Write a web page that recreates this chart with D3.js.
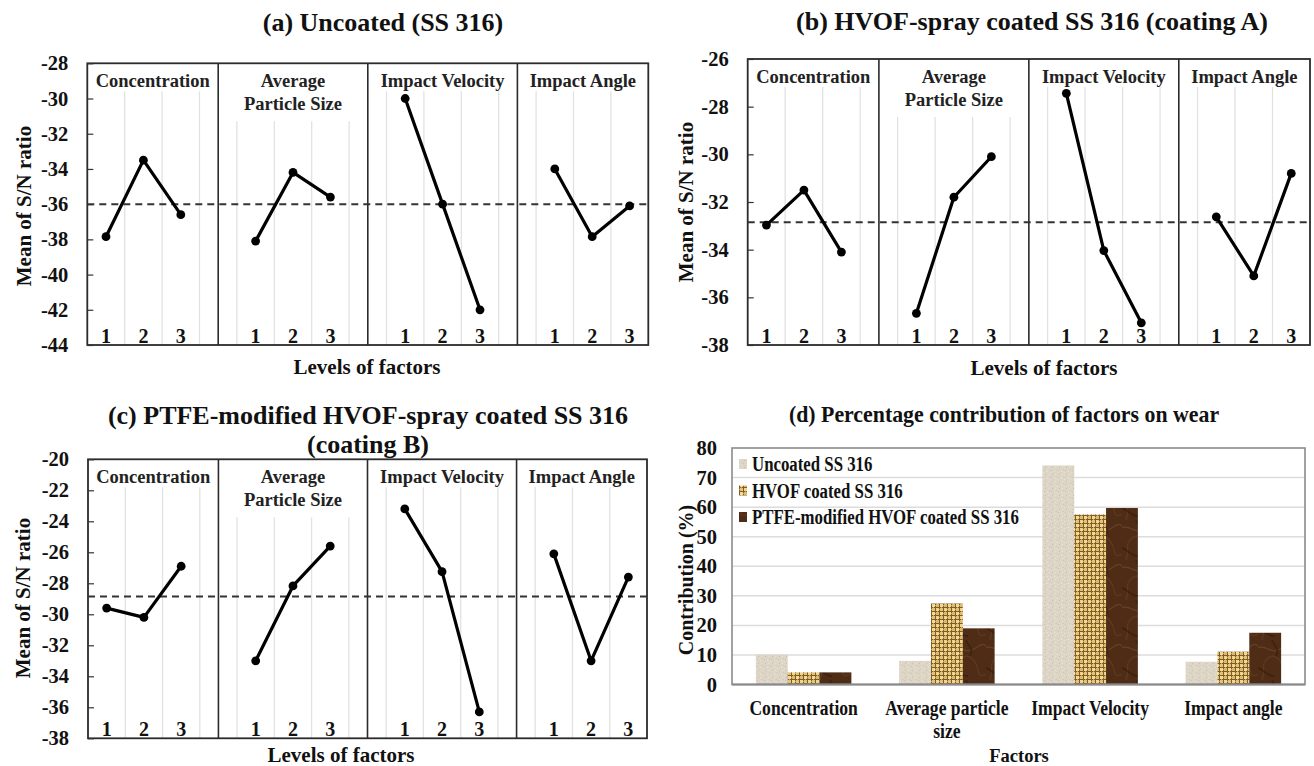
<!DOCTYPE html>
<html>
<head>
<meta charset="utf-8">
<script src="https://cdn.jsdelivr.net/npm/d3@7"></script>
<style>
  body { margin: 0; background: #fff; }
  svg { display: block; font-family: "Liberation Serif", "Times New Roman", serif; font-weight: bold; }
</style>
</head>
<body>
<svg id="chart" width="1314" height="766"></svg>
<script>
// ---- Main-effect plots: mean S/N ratio per factor level (factor order, levels 1-3) ----
const factorNames = ["Concentration", "Average Particle Size", "Impact Velocity", "Impact Angle"];
const levelLabels = ["1", "2", "3"];

const snUncoated = [-37.85, -33.5, -36.6,  -38.1, -34.2, -35.6,  -30.0, -36.0, -42.0,  -34.0, -37.85, -36.1];
const snCoatingA = [-32.97, -31.5, -34.1,  -36.67, -31.8, -30.1,  -27.44, -34.04, -37.07,  -32.62, -35.1, -30.8];
const snCoatingB = [-29.6, -30.2, -26.9,  -33.0, -28.17, -25.6,  -23.2, -27.25, -36.3,  -26.1, -33.0, -27.6];

const meanUncoated = -36.0;
const meanCoatingA = -32.85;
const meanCoatingB = -28.85;

const ticksUncoated = [-28, -30, -32, -34, -36, -38, -40, -42, -44];
const ticksCoatingA = [-26, -28, -30, -32, -34, -36, -38];
const ticksCoatingB = [-20, -22, -24, -26, -28, -30, -32, -34, -36, -38];

// ---- Percentage contribution of each factor on wear ----
const contribFactors = ["Concentration", "Average particle size", "Impact Velocity", "Impact angle"];
const contribSeries = ["Uncoated SS 316", "HVOF coated SS 316", "PTFE-modified HVOF coated SS 316"];
const contribUncoated = [10.1, 8.0, 74.1, 7.7];
const contribHVOF = [4.1, 27.4, 57.5, 11.1];
const contribPTFE = [4.1, 19.0, 59.7, 17.5];
const contribTicks = [0, 10, 20, 30, 40, 50, 60, 70, 80];

const FONT = "Liberation Serif, Times New Roman, serif";
const svg = d3.select("#chart");
svg.append("rect").attr("width", 1314).attr("height", 766).attr("fill", "#fff");

// ---- bar textures ----
const defs = svg.append("defs");

// pale speckled stone
const pStone = defs.append("pattern").attr("id", "texStone")
  .attr("patternUnits", "userSpaceOnUse").attr("width", 7).attr("height", 7);
pStone.append("rect").attr("width", 7).attr("height", 7).attr("fill", "#ddd5c6");
[[1, 1, "#cbc2b0"], [4, 2, "#ece6da"], [2, 5, "#c9c0ae"], [5, 5, "#e9e2d4"],
 [0, 3, "#e6dfd1"], [6, 0, "#d0c7b6"], [3, 3, "#d4ccbb"]].forEach(([x, y, c]) =>
  pStone.append("rect").attr("x", x).attr("y", y).attr("width", 1).attr("height", 1).attr("fill", c));

// burlap-like weave: light cells separated by a dark thread grid
const pWeave = defs.append("pattern").attr("id", "texWeave")
  .attr("patternUnits", "userSpaceOnUse").attr("width", 8).attr("height", 8);
pWeave.append("rect").attr("width", 8).attr("height", 8).attr("fill", "#7e5d2a");
[[0, 0, "#f0d68c"], [4, 0, "#e3c475"], [0, 4, "#dcbb6c"], [4, 4, "#f2da95"]].forEach(([x, y, c]) =>
  pWeave.append("rect").attr("x", x).attr("y", y).attr("width", 3).attr("height", 3).attr("fill", c));
[[1, 3], [5, 7], [3, 1], [7, 5]].forEach(([x, y]) =>
  pWeave.append("rect").attr("x", x).attr("y", y).attr("width", 1).attr("height", 1).attr("fill", "#c9a65c"));

// dark brown marble
const pMarble = defs.append("pattern").attr("id", "texMarble")
  .attr("patternUnits", "userSpaceOnUse").attr("width", 34).attr("height", 40);
pMarble.append("rect").attr("width", 34).attr("height", 40).attr("fill", "#4f2c15");
pMarble.append("path").attr("d", "M0,8 C8,4 12,14 20,10 S30,2 34,6").attr("fill", "none")
  .attr("stroke", "#74502f").attr("stroke-width", 1.2).attr("opacity", 0.55);
pMarble.append("path").attr("d", "M4,40 C8,30 2,24 10,18 S24,22 26,30 S30,36 34,34").attr("fill", "none")
  .attr("stroke", "#6c4527").attr("stroke-width", 1.1).attr("opacity", 0.5);
pMarble.append("path").attr("d", "M14,0 C16,6 22,8 18,16").attr("fill", "none")
  .attr("stroke", "#38200c").attr("stroke-width", 2).attr("opacity", 0.7);
pMarble.append("path").attr("d", "M0,28 C6,30 10,36 16,36").attr("fill", "none")
  .attr("stroke", "#351b0a").attr("stroke-width", 1.8).attr("opacity", 0.7);

// ---- main-effects panel ----
function mainEffects(cfg) {
  const g = svg.append("g");
  const nSlots = 15; // 4 factors x 3 levels, separated by 3 spacer slots
  const x = d3.scaleBand().domain(d3.range(nSlots)).range([cfg.x0, cfg.x1]).padding(0);
  const bw = x.bandwidth();
  const y = d3.scaleLinear().domain([cfg.ticks[0], cfg.ticks[cfg.ticks.length - 1]]).range([cfg.y0, cfg.y1]);
  const slotOf = i => Math.floor(i / 3) * 4 + (i % 3);
  const cx = i => x(slotOf(i)) + bw / 2;

  // light vertical gridlines at slot boundaries, starting under the factor headers
  const gridTop = k => cfg.y0 + (Math.floor(k / 4) === 1 ? 58 : 28);
  g.selectAll("line.grid").data(d3.range(1, nSlots)).join("line")
    .attr("x1", k => x(k)).attr("x2", k => x(k))
    .attr("y1", gridTop).attr("y2", cfg.y1)
    .attr("stroke", "#e2e2e2").attr("stroke-width", 1.3);

  // factor dividers
  const dividers = [3, 7, 11].map(s => x(s) + bw / 2);
  g.selectAll("line.div").data(dividers).join("line")
    .attr("x1", d => d).attr("x2", d => d).attr("y1", cfg.y0).attr("y2", cfg.y1)
    .attr("stroke", "#2b2b2b").attr("stroke-width", 1.6);

  // frame
  g.append("rect").attr("x", cfg.x0).attr("y", cfg.y0)
    .attr("width", cfg.x1 - cfg.x0).attr("height", cfg.y1 - cfg.y0)
    .attr("fill", "none").attr("stroke", "#2b2b2b").attr("stroke-width", 1.8);

  // y axis (short inward ticks)
  const ax = g.append("g").attr("transform", `translate(${cfg.x0},0)`)
    .call(d3.axisLeft(y).tickValues(cfg.ticks).tickSize(-6).tickPadding(19).tickFormat(d => String(d)));
  ax.select(".domain").remove();
  ax.selectAll(".tick line").attr("stroke", "#333").attr("stroke-width", 1.2);
  ax.selectAll(".tick text").attr("font-size", 20.5).attr("fill", "#111")
    .attr("font-family", FONT).attr("font-weight", "bold");

  // factor headers
  const edges = [cfg.x0, ...dividers, cfg.x1];
  const headerLines = [["Concentration"], ["Average", "Particle Size"], ["Impact Velocity"], ["Impact Angle"]];
  headerLines.forEach((lines, f) => {
    const mid = (edges[f] + edges[f + 1]) / 2;
    lines.forEach((t, j) => {
      g.append("text").attr("x", mid).attr("y", cfg.y0 + 23.5 + j * 23)
        .attr("text-anchor", "middle").attr("font-size", 18.5).attr("fill", "#222").text(t);
    });
  });

  // level labels
  g.selectAll("text.lvl").data(d3.range(12)).join("text")
    .attr("x", i => cx(i)).attr("y", cfg.y1 - 2.5)
    .attr("text-anchor", "middle").attr("font-size", 20).attr("fill", "#111")
    .text(i => levelLabels[i % 3]);

  // overall mean (dashed)
  g.append("line").attr("x1", cfg.x0).attr("x2", cfg.x1)
    .attr("y1", y(cfg.mean)).attr("y2", y(cfg.mean))
    .attr("stroke", "#333").attr("stroke-width", 2).attr("stroke-dasharray", "7,5");

  // main-effect lines per factor
  const line = d3.line().x(d => cx(d)).y(d => y(cfg.values[d]));
  factorNames.forEach((name, f) => {
    const idx = [f * 3, f * 3 + 1, f * 3 + 2];
    g.append("path").attr("d", line(idx)).attr("fill", "none")
      .attr("stroke", "#000").attr("stroke-width", 3.2).attr("stroke-linejoin", "round");
    g.selectAll(null).data(idx).join("circle")
      .attr("cx", d => cx(d)).attr("cy", d => y(cfg.values[d])).attr("r", 4.4).attr("fill", "#000");
  });

  // titles
  cfg.title.forEach((t, j) => {
    g.append("text").attr("x", cfg.titleX).attr("y", cfg.titleY + j * 29)
      .attr("text-anchor", "middle").attr("font-size", 26).attr("fill", "#111").text(t);
  });
  g.append("text").attr("x", cfg.xTitle[0]).attr("y", cfg.xTitle[1])
    .attr("text-anchor", "middle").attr("font-size", 21).attr("fill", "#111").text("Levels of factors");
  g.append("text").attr("transform", `translate(${cfg.yTitle[0]},${cfg.yTitle[1]}) rotate(-90)`)
    .attr("text-anchor", "middle").attr("dy", "0.35em").attr("font-size", 21).attr("fill", "#111")
    .text("Mean of S/N ratio");
}

mainEffects({
  x0: 87.3, x1: 648.3, y0: 63.3, y1: 345,
  ticks: ticksUncoated, values: snUncoated, mean: meanUncoated,
  title: ["(a) Uncoated (SS 316)"], titleX: 383, titleY: 30.5,
  xTitle: [367, 374], yTitle: [24, 206]
});

mainEffects({
  x0: 747.7, x1: 1310, y0: 59, y1: 345,
  ticks: ticksCoatingA, values: snCoatingA, mean: meanCoatingA,
  title: ["(b) HVOF-spray coated SS 316 (coating A)"], titleX: 1032, titleY: 29.5,
  xTitle: [1044, 375], yTitle: [686, 202]
});

mainEffects({
  x0: 88, x1: 647, y0: 459.3, y1: 738.3,
  ticks: ticksCoatingB, values: snCoatingB, mean: meanCoatingB,
  title: ["(c) PTFE-modified HVOF-spray coated SS 316", "(coating B)"], titleX: 368, titleY: 423.5,
  xTitle: [341, 761.5], yTitle: [23, 598]
});

// ---- (d) grouped bar chart ----
(function () {
  const x0 = 732, x1 = 1305, y0 = 448, y1 = 684.5;
  const g = svg.append("g");
  const xg = d3.scaleBand().domain(contribFactors).range([x0, x1]).paddingInner(1 / 3).paddingOuter(1 / 6);
  const xs = d3.scaleBand().domain(contribSeries).range([0, xg.bandwidth()]);
  const y = d3.scaleLinear().domain([0, 80]).range([y1, y0]);
  const seriesValues = [contribUncoated, contribHVOF, contribPTFE];
  const fills = ["url(#texStone)", "url(#texWeave)", "url(#texMarble)"];

  // gridlines
  g.selectAll("line.hg").data(contribTicks.filter(t => t > 0 && t < 80)).join("line")
    .attr("x1", x0).attr("x2", x1).attr("y1", d => y(d)).attr("y2", d => y(d))
    .attr("stroke", "#dcdcdc").attr("stroke-width", 1.5);

  // bars
  contribSeries.forEach((s, si) => {
    g.selectAll(null).data(contribFactors).join("rect")
      .attr("x", (f) => xg(f) + xs(s)).attr("width", xs.bandwidth())
      .attr("y", (f, i) => y(seriesValues[si][i]))
      .attr("height", (f, i) => y(0) - y(seriesValues[si][i]))
      .attr("fill", fills[si]);
  });

  // plot-area frame and baseline
  g.append("rect").attr("x", x0).attr("y", y0).attr("width", x1 - x0).attr("height", y1 - y0)
    .attr("fill", "none").attr("stroke", "#8a8a8a").attr("stroke-width", 1.6);
  g.append("line").attr("x1", x0).attr("x2", x1).attr("y1", y(0)).attr("y2", y(0))
    .attr("stroke", "#8a8a8a").attr("stroke-width", 2);

  // y tick labels
  const ax = g.append("g").attr("transform", `translate(${x0},0)`)
    .call(d3.axisLeft(y).tickValues(contribTicks).tickSize(0).tickPadding(15));
  ax.select(".domain").remove();
  ax.selectAll(".tick text").attr("font-size", 20.5).attr("fill", "#111")
    .attr("font-family", FONT).attr("font-weight", "bold");

  // category labels (condensed serif)
  const catLines = { "Average particle size": ["Average particle", "size"] };
  contribFactors.forEach(f => {
    const lines = catLines[f] || [f];
    lines.forEach((t, j) => {
      g.append("text")
        .attr("transform", `translate(${xg(f) + xg.bandwidth() / 2},${715 + j * 23}) scale(0.88,1)`)
        .attr("text-anchor", "middle").attr("font-size", 20).attr("fill", "#111").text(t);
    });
  });

  // legend
  contribSeries.forEach((s, i) => {
    const cy = 464 + i * 26.5;
    g.append("rect").attr("x", 739).attr("y", cy - 5).attr("width", 8).attr("height", 10).attr("fill", fills[i]);
    g.append("text").attr("transform", `translate(752,${cy + 7}) scale(0.82,1)`)
      .attr("font-size", 20.5).attr("fill", "#111").text(s);
  });

  // titles
  g.append("text").attr("transform", `translate(1004,422) scale(0.95,1)`)
    .attr("text-anchor", "middle").attr("font-size", 23).attr("fill", "#111")
    .text("(d) Percentage contribution of factors on wear");
  g.append("text").attr("x", 1019).attr("y", 761.5).attr("text-anchor", "middle")
    .attr("font-size", 18.5).attr("fill", "#111").text("Factors");
  g.append("text").attr("transform", "translate(686,580) rotate(-90)")
    .attr("text-anchor", "middle").attr("dy", "0.35em").attr("font-size", 20).attr("fill", "#111")
    .text("Contribution (%)");
})();
</script>
</body>
</html>
